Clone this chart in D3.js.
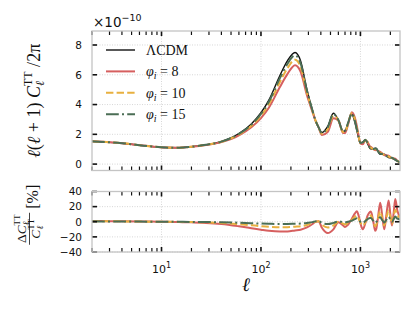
<!DOCTYPE html>
<html>
<head>
<meta charset="utf-8">
<script src="https://cdn.jsdelivr.net/npm/d3@7"></script>
<style>
  body { margin: 0; background: #fff; }
  svg text { font-family: "DejaVu Sans", sans-serif; fill: #111; }
  .serif { font-family: "Liberation Serif", "DejaVu Serif", serif; }
</style>
</head>
<body>
<svg id="chart" width="415" height="312"></svg>
<script>
// multipoles
const ells = [2, 3, 4, 6, 8, 11, 15, 20, 28, 40, 60, 80, 100, 120, 155, 185, 220, 250, 290, 330,
  350, 380, 410, 470, 535, 600, 670, 700, 750, 820, 880, 920, 960, 1000, 1057, 1120, 1180, 1250,
  1273, 1340, 1408, 1440, 1500, 1581, 1650, 1737, 1820, 1920, 2000, 2076, 2160, 2240, 2350, 2500];

// l(l+1)C_l/2pi for LCDM, in units of 1e-10
const lcdm = [1.52, 1.46, 1.40, 1.27, 1.18, 1.11, 1.10, 1.17, 1.30, 1.52, 2.05, 2.70, 3.45, 4.30, 5.95, 6.95, 7.50, 6.95, 5.00, 3.60,
  3.00, 2.45, 2.12, 2.55, 3.42, 2.95, 2.20, 2.25, 2.75, 3.35, 2.80, 2.25, 1.75, 1.42, 1.48, 1.62, 1.38, 1.05,
  1.02, 1.00, 1.06, 1.05, 0.85, 0.66, 0.66, 0.66, 0.55, 0.44, 0.42, 0.42, 0.34, 0.28, 0.20, 0.12];

// relative difference to LCDM, percent
const resPhi8 = [1.0, 0.8, 0.6, 0.4, 0.2, 0, -0.4, -0.8, -1.5, -3, -6, -8.5, -10.5, -12, -13, -12.8, -11.5, -10.5, -7.5, -3,
  -0.5, 0.5, -8, -15, -10, -0.5, -5, -7, -4, 4, 11, 14, 8, -2, -10, -2, 8, 13,
  13.5, 2, -12, -10, 5, 25, 10, -10, 8, 28, 10, -5, 12, 30, 15, 6];
const resPhi10 = [0.8, 0.6, 0.5, 0.3, 0.1, 0, -0.2, -0.4, -0.8, -1.5, -3.2, -4.6, -5.8, -6.6, -7.3, -7.2, -6.5, -6.0, -4.2, -1.5,
  0, 0.6, -4, -7.5, -5, 0, -2.5, -3.5, -1.5, 2.5, 6.5, 8, 4, -1, -5, -0.5, 5, 8,
  8.5, 1, -6, -4, 4, 14, 5, -5, 5, 15, 6, -3, 8, 16, 9, 5];
const resPhi15 = [0.5, 0.4, 0.3, 0.2, 0.1, 0, -0.1, -0.2, -0.4, -0.7, -1.3, -1.9, -2.4, -2.7, -3.0, -2.9, -2.6, -2.4, -1.6, -0.5,
  0.5, 0.8, -1.5, -3, -1.5, 0.5, -0.5, -1, 0, 1.5, 3.5, 4.5, 2.5, 0, -1.5, 1, 3.5, 5,
  5, 1.5, -1.5, -0.5, 2.5, 6, 2.5, -1, 2.5, 6.5, 3, 0, 3.5, 7, 4, 3];

const legendLabels = ["ΛCDM", "8", "10", "15"];
const topTicks = [0, 2, 4, 6, 8];
const botTicks = [-40, -20, 0, 20, 40];
const xMajor = [10, 100, 1000];

const colors = ["#111111", "#d65f5f", "#e8b03f", "#4b6e55"];
const dashes = [null, null, "7.4,3.2", "12.8,3.2,2,3.2"];
const widths = [1.4, 2, 2, 2];

const left = 92, right = 400;
const top1 = { top: 31, bottom: 170.5 };
const bot1 = { top: 191.5, bottom: 252 };

const svg = d3.select("#chart");

const x = d3.scaleLog().domain([2, 2500]).range([left, right]);
const yTop = d3.scaleLinear().domain([-0.43, 8.94]).range([top1.bottom, top1.top]);
const yBot = d3.scaleLinear().domain([-40, 40]).range([bot1.bottom, bot1.top]);

const xMinor = x.ticks().filter(t => !xMajor.includes(t));

const residuals = [ells.map(() => 0), resPhi8, resPhi10, resPhi15];
const models = residuals.map(res => ells.map((l, i) => ({
  l,
  d: lcdm[i] * (1 + res[i] / 100),
  r: res[i]
})));

const drawPanel = (box, y, yticks, id) => {
  const g = svg.append("g");

  g.append("clipPath").attr("id", id)
    .append("rect")
    .attr("x", left).attr("y", box.top)
    .attr("width", right - left).attr("height", box.bottom - box.top);

  // grid
  g.selectAll(".gx").data(xMajor).join("line")
    .attr("x1", d => x(d)).attr("x2", d => x(d))
    .attr("y1", box.top).attr("y2", box.bottom)
    .attr("stroke", "#d2d2d2").attr("stroke-width", 0.9).attr("stroke-dasharray", "1,1.5");
  g.selectAll(".gy").data(yticks).join("line")
    .attr("x1", left).attr("x2", right)
    .attr("y1", d => y(d)).attr("y2", d => y(d))
    .attr("stroke", "#d2d2d2").attr("stroke-width", 0.9).attr("stroke-dasharray", "1,1.5");

  const plot = g.append("g").attr("clip-path", `url(#${id})`);

  // ticks
  const tk = g.append("g").attr("stroke", "#111");
  const xTickSet = (vals, len, w) => {
    tk.selectAll(null).data(vals).join("line")
      .attr("x1", d => x(d)).attr("x2", d => x(d))
      .attr("y1", box.top).attr("y2", box.top + len).attr("stroke-width", w);
    tk.selectAll(null).data(vals).join("line")
      .attr("x1", d => x(d)).attr("x2", d => x(d))
      .attr("y1", box.bottom).attr("y2", box.bottom - len).attr("stroke-width", w);
  };
  xTickSet(xMinor, 4, 1.2);
  xTickSet(xMajor, 5, 1.6);
  tk.selectAll(null).data(yticks).join("line")
    .attr("x1", left).attr("x2", left + 5)
    .attr("y1", d => y(d)).attr("y2", d => y(d)).attr("stroke-width", 1.6);
  tk.selectAll(null).data(yticks).join("line")
    .attr("x1", right).attr("x2", right - 5)
    .attr("y1", d => y(d)).attr("y2", d => y(d)).attr("stroke-width", 1.6);

  // y tick labels
  g.selectAll(".yl").data(yticks).join("text")
    .attr("x", left - 10).attr("y", d => y(d) + 3.8)
    .attr("text-anchor", "end").attr("font-size", 10.5)
    .text(d => d < 0 ? "\u2212" + Math.abs(d) : d);

  // frame
  g.append("rect")
    .attr("x", left).attr("y", box.top)
    .attr("width", right - left).attr("height", box.bottom - box.top)
    .attr("fill", "none").attr("stroke", "#c4c4c4").attr("stroke-width", 1.3);

  return plot;
};

const plotTop = drawPanel(top1, yTop, topTicks, "clipTop");
const plotBot = drawPanel(bot1, yBot, botTicks, "clipBot");

const lineTop = d3.line().x(d => x(d.l)).y(d => yTop(d.d)).curve(d3.curveMonotoneX);
const lineBot = d3.line().x(d => x(d.l)).y(d => yBot(d.r)).curve(d3.curveMonotoneX);

models.forEach((m, i) => {
  plotTop.append("path")
    .attr("d", lineTop(m))
    .attr("fill", "none")
    .attr("stroke", colors[i])
    .attr("stroke-width", widths[i])
    .attr("stroke-dasharray", dashes[i]);
  if (i > 0) {
    plotBot.append("path")
      .attr("d", lineBot(m))
      .attr("fill", "none")
      .attr("stroke", colors[i])
      .attr("stroke-width", widths[i])
      .attr("stroke-dasharray", dashes[i]);
  }
});

// legend
const leg = svg.append("g");
legendLabels.forEach((lab, i) => {
  const yy = 50 + i * 21.4;
  leg.append("line")
    .attr("x1", 106).attr("x2", 135).attr("y1", yy).attr("y2", yy)
    .attr("stroke", colors[i]).attr("stroke-width", widths[i])
    .attr("stroke-dasharray", dashes[i]);
  const t = leg.append("text").attr("class", "serif")
    .attr("x", 146).attr("y", yy + 4.8).attr("font-size", 14);
  if (i === 0) {
    t.text(lab);
  } else {
    t.append("tspan").attr("font-style", "italic").text("φ");
    t.append("tspan").attr("font-style", "italic").attr("font-size", 10).attr("dy", 3).text("i");
    t.append("tspan").attr("dy", -3).text(" = " + lab);
  }
});

// x tick labels (10^n)
svg.selectAll(".xl").data(xMajor).join("text")
  .attr("x", d => x(d)).attr("y", 273)
  .attr("text-anchor", "middle").attr("font-size", 11)
  .each(function (d) {
    const t = d3.select(this);
    t.append("tspan").text("10");
    t.append("tspan").attr("font-size", 8).attr("dy", -5).text(Math.round(Math.log10(d)));
  });

// offset text
const off = svg.append("text").attr("x", 93).attr("y", 27).attr("font-size", 13.5);
off.append("tspan").text("×10");
off.append("tspan").attr("font-size", 9.5).attr("dy", -6).text("\u221210");

// x label
svg.append("text").attr("class", "serif")
  .attr("x", (left + right) / 2).attr("y", 291)
  .attr("text-anchor", "middle").attr("font-size", 19).attr("font-style", "italic")
  .text("ℓ");

// top y label
const yl = svg.append("text").attr("class", "serif")
  .attr("transform", `translate(40,${(top1.top + top1.bottom) / 2}) rotate(-90)`)
  .attr("text-anchor", "middle").attr("font-size", 18);
yl.append("tspan").attr("font-style", "italic").text("ℓ");
yl.append("tspan").text("(");
yl.append("tspan").attr("font-style", "italic").text("ℓ");
yl.append("tspan").text(" + 1) ");
yl.append("tspan").attr("font-style", "italic").text("C");
yl.append("tspan").attr("font-style", "italic").attr("font-size", 12).attr("dy", 4).text("ℓ");
yl.append("tspan").attr("font-size", 12).attr("dx", -5).attr("dy", -12).text("TT");
yl.append("tspan").attr("dy", 8).text(" /2π");

// bottom y label (fraction)
const fl = svg.append("g")
  .attr("transform", `translate(30,${(bot1.top + bot1.bottom) / 2 - 4}) rotate(-90)`);
const cTT = (sel, prefix) => {
  if (prefix) sel.append("tspan").text(prefix);
  sel.append("tspan").attr("font-style", "italic").text("C");
  sel.append("tspan").attr("font-style", "italic").attr("font-size", 9).attr("dy", 3).text("ℓ");
  sel.append("tspan").attr("font-size", 9).attr("dx", -4).attr("dy", -9).text("TT");
};
const num = fl.append("text").attr("class", "serif")
  .attr("x", -11).attr("y", -4).attr("text-anchor", "middle").attr("font-size", 13.5);
cTT(num, "Δ");
fl.append("line").attr("x1", -27).attr("x2", 5).attr("y1", -0.5).attr("y2", -0.5)
  .attr("stroke", "#111").attr("stroke-width", 0.8);
const den = fl.append("text").attr("class", "serif")
  .attr("x", -11).attr("y", 10).attr("text-anchor", "middle").attr("font-size", 13.5);
cTT(den, null);
fl.append("text").attr("class", "serif")
  .attr("x", 9).attr("y", 8).attr("font-size", 16).text("[%]");
</script>
</body>
</html>
